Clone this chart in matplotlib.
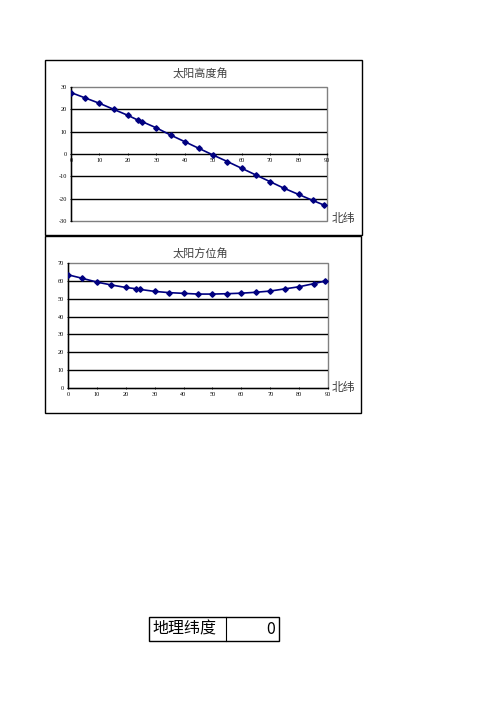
import matplotlib
matplotlib.use("Agg")
import matplotlib.pyplot as plt
from matplotlib.patches import Rectangle

plt.rcParams['font.family'] = ['Noto Sans CJK SC', 'DejaVu Sans']
plt.rcParams['axes.unicode_minus'] = False

W, H = 496, 702

latitude = [0, 5, 10, 15, 20, 23.5, 25, 30, 35, 40, 45, 50, 55, 60, 65, 70, 75, 80, 85, 89]
altitude = [27.5, 25.1, 22.7, 20.0, 17.3, 15.2, 14.5, 11.7, 8.5, 5.5, 2.5, -0.5, -3.4,
            -6.4, -9.4, -12.4, -15.4, -18.1, -20.8, -22.9]
azimuth = [63.4, 61.4, 59.3, 57.7, 56.3, 55.6, 55.2, 54.1, 53.4, 53.0, 52.6, 52.6, 52.8,
           53.1, 53.6, 54.3, 55.5, 56.7, 58.4, 59.9]
x_ticks = list(range(0, 91, 10))
alt_ticks = list(range(-30, 31, 10))
azi_ticks = list(range(0, 71, 10))


def fr(x0, y0, x1, y1):
    return [x0 / W, 1 - y1 / H, (x1 - x0) / W, (y1 - y0) / H]


fig = plt.figure(figsize=(W / 100, H / 100), dpi=100)
fig.patch.set_facecolor("white")

# chart frames
for x0, y0, x1, y1 in [(45, 60, 362, 235), (45, 236, 361, 413)]:
    fig.patches.append(Rectangle((x0 / W, 1 - y1 / H), (x1 - x0) / W, (y1 - y0) / H,
                                 transform=fig.transFigure, fill=False,
                                 edgecolor="black", linewidth=1.0))


def make_chart(rect, ys, yticks, title, title_y, label_y):
    ax = fig.add_axes(fr(*rect))
    ax.patch.set_alpha(0)
    # grey plot-area border
    ax.add_patch(Rectangle((0, 0), 1, 1, transform=ax.transAxes, fill=False,
                           edgecolor="#808080", linewidth=1.0, clip_on=False, zorder=0))
    for y in yticks[1:-1]:
        if y != 0:
            ax.axhline(y, color="black", linewidth=1.0, zorder=1)
    ax.plot(latitude, ys, color="#000080", linewidth=1.2, marker="D", markersize=2.8,
            zorder=3)
    ax.set_xlim(0, 90)
    ax.set_ylim(yticks[0], yticks[-1])
    ax.set_xticks(x_ticks)
    ax.set_yticks(yticks)
    for s in ["top", "right"]:
        ax.spines[s].set_visible(False)
    ax.spines["left"].set_color("black")
    ax.spines["left"].set_linewidth(1.0)
    ax.spines["bottom"].set_position(("data", 0))
    ax.spines["bottom"].set_color("black")
    ax.spines["bottom"].set_linewidth(1.0)
    ax.tick_params(axis="both", labelsize=4.5, length=2, width=0.6, pad=2,
                   colors="black", direction="inout")
    for lab in ax.get_xticklabels() + ax.get_yticklabels():
        lab.set_fontfamily("Liberation Serif")
    fig.text(200 / W, 1 - title_y / H, title, ha="center", va="center",
             fontsize=8, color="#404040")
    fig.text(332 / W, 1 - label_y / H, "北纬", ha="left", va="center",
             fontsize=8.5, color="#404040")
    return ax


make_chart((71, 87, 327, 221), altitude, alt_ticks, "太阳高度角", 74, 218)
make_chart((68, 263, 328, 388), azimuth, azi_ticks, "太阳方位角", 254, 387)

# table cell
fig.patches.append(Rectangle((149 / W, 1 - 641 / H), 130 / W, 24 / H,
                             transform=fig.transFigure, fill=False,
                             edgecolor="black", linewidth=1.0))
fig.lines.append(plt.Line2D([226 / W, 226 / W], [1 - 641 / H, 1 - 617 / H],
                            transform=fig.transFigure, color="black", linewidth=0.8))
fig.text(152 / W, 1 - 629 / H, "地理纬度", ha="left", va="center", fontsize=11.5)
fig.text(275 / W, 1 - 629 / H, "0", ha="right", va="center", fontsize=11.5)

fig.savefig("out.png", dpi=100)
